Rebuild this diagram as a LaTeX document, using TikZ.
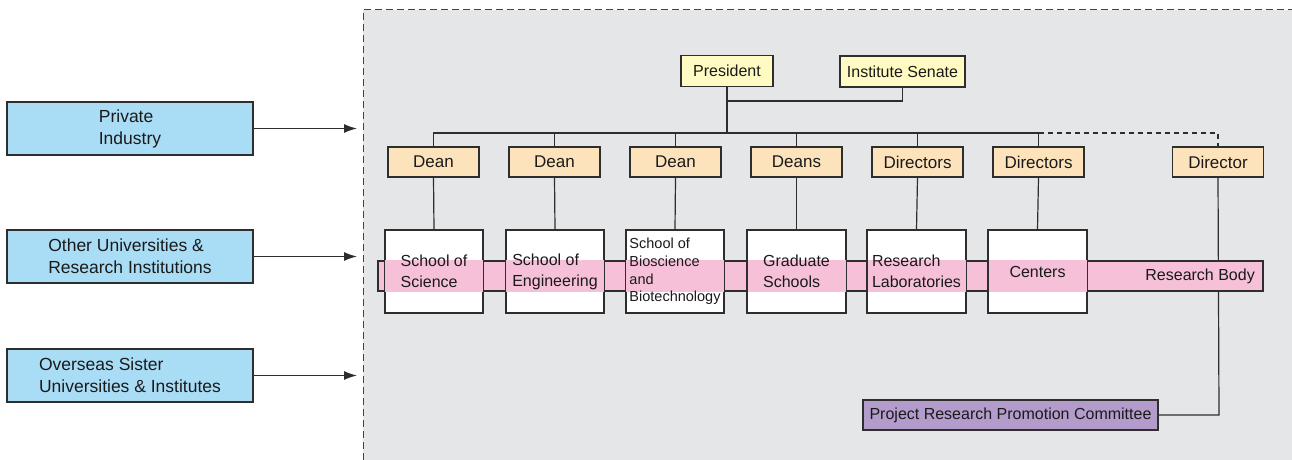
\documentclass[tikz,border=0pt]{standalone}
\usepackage{fontspec}
\setmainfont{Liberation Sans}
\usetikzlibrary{arrows.meta}
\begin{document}
\definecolor{panelgray}{HTML}{E5E6E8}
\definecolor{linegray}{HTML}{2E2E2E}
\definecolor{partnerblue}{HTML}{A9DDF6}
\definecolor{topyellow}{HTML}{FFFBC2}
\definecolor{deanpeach}{HTML}{FDE3BC}
\definecolor{bandpink}{HTML}{F5C0D8}
\definecolor{committeepurple}{HTML}{B39CCB}
\definecolor{inkblack}{HTML}{1A1A1A}
\tikzset{
  every node/.style={text=inkblack},
  conn/.style={draw=linegray, line width=1.2pt},
  partner/.style={draw=linegray, line width=1.2pt, fill=partnerblue, minimum width=246pt,
    minimum height=53pt, inner sep=0pt, align=left, font=\fontsize{17.5}{22}\selectfont},
  topbox/.style={draw=linegray, line width=1.2pt, fill=topyellow, minimum height=31pt,
    inner sep=0pt, font=\fontsize{16}{19}\selectfont},
  headbox/.style={draw=linegray, line width=1.2pt, fill=deanpeach, minimum width=91pt,
    minimum height=30pt, inner sep=0pt, font=\fontsize{17}{20}\selectfont},
  unitbox/.style={draw=linegray, line width=1.2pt, fill=white, minimum width=98pt,
    minimum height=83pt, inner sep=0pt},
  unittext/.style={align=left, inner sep=0pt, font=\fontsize{16}{21}\selectfont},
  arr/.style={conn, -{Latex[length=13pt,width=9pt]}},
}
\begin{tikzpicture}[x=1pt,y=-1pt]
\useasboundingbox (0,0) rectangle (1292,460);
% university panel
\fill[panelgray] (363,10) rectangle (1292,460);
\draw[linegray!90, line width=1pt, dash pattern=on 7pt off 4pt] (363,460) -- (363,10) -- (1292,10);

% outside partners
\node[partner] (pi) at (130,128.5) {Private\\Industry};
\node[partner] (ou) at (130,256.5) {Other Universities \&\\Research Institutions};
\node[partner] (os) at (130,375.5) {Overseas Sister\\Universities \& Institutes};
\coordinate (pia) at (357,128.5);
\coordinate (oua) at (357,256.5);
\coordinate (osa) at (357,375.5);
\draw[arr] (pi.east) -- (pia);
\draw[arr] (ou.east) -- (oua);
\draw[arr] (os.east) -- (osa);

% top level
\node[topbox, minimum width=92pt] (pres) at (727,71) {President};
\node[topbox, minimum width=125pt] (sen) at (902.5,71.5) {Institute Senate};

% heads
\node[headbox] (d1) at (433.5,162) {Dean};
\node[headbox] (d2) at (554.5,162) {Dean};
\node[headbox] (d3) at (675.5,162) {Dean};
\node[headbox] (d4) at (796.5,162) {Deans};
\node[headbox] (d5) at (917.5,162) {Directors};
\node[headbox] (d6) at (1038.5,162) {Directors};
\node[headbox] (d7) at (1218,162) {Director};

% committee
\node[draw=linegray, line width=1.2pt, fill=committeepurple, minimum width=295pt, minimum height=30pt,
  inner sep=0pt, font=\fontsize{16}{19}\selectfont] (prc) at (1010.5,415) {Project Research Promotion Committee};
\coordinate (bend) at (1219,415);

% connectors
\coordinate (jn) at (727,101);
\coordinate (bus) at (727,133);
\draw[conn] (pres.south) -- (bus);
\draw[conn] (sen.south) |- (jn);
\draw[conn] (d1.north) |- (bus);
\draw[conn] (d6.north) |- (bus);
\foreach \d in {d2,d3,d4,d5} \draw[conn] (\d.north) -- (\d.north |- bus);
\draw[conn, dash pattern=on 5pt off 4pt] (d6.north |- bus) -- (d7.north |- bus) -- (d7.north);
\draw[conn] (d7.south) -- (bend) -- (prc.east);

% research body band
\node[draw=linegray, line width=1.2pt, fill=bandpink, minimum width=885pt, minimum height=30pt,
  inner sep=0pt] (band) at (820.5,276) {};
\node[anchor=east, inner sep=0pt, font=\fontsize{16}{19}\selectfont] (bodylbl) at (1255,276) {Research Body};

% units
\foreach \n/\x in {u1/434,u2/555,u3/675,u4/796.5,u5/916.5,u6/1037.5}
  \node[unitbox] (\n) at (\x,271.5) {};
\foreach \n in {u1,u2,u3,u4,u5,u6}
  \fill[bandpink] (\n.west |- band.north) rectangle (\n.east |- band.south);
\foreach \n in {u1,u2,u3,u4,u5,u6}
  \draw[linegray, line width=1.2pt] (\n.south west) rectangle (\n.north east);
\foreach \d/\n in {d1/u1,d2/u2,d3/u3,d4/u4,d5/u5,d6/u6}
  \draw[conn] (\d.south) -- (\n.north);

\node[unittext] (t1) at (u1) {School of\\Science};
\node[unittext] (t2) at (u2) {School of\\Engineering};
\node[unittext, font=\fontsize{14.5}{17.7}\selectfont] (t3) at (u3) {School of\\Bioscience\\and\\Biotechnology};
\node[unittext] (t4) at (u4) {Graduate\\Schools};
\node[unittext] (t5) at (u5) {Research\\Laboratories};
\node[unittext] (t6) at (u6) {Centers};
\end{tikzpicture}
\end{document}
